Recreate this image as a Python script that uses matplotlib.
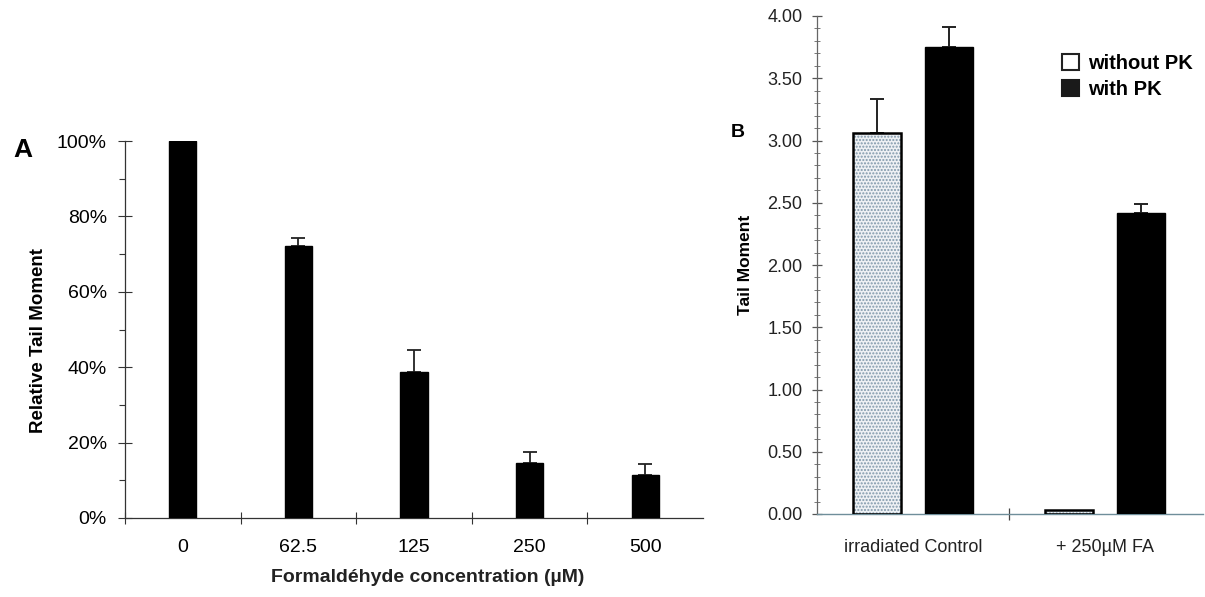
import numpy as np
import matplotlib
matplotlib.use('Agg')
import matplotlib.pyplot as plt
from matplotlib.patches import Patch
from matplotlib.ticker import MultipleLocator, FixedLocator

plt.rcParams['font.family'] = ['Liberation Sans', 'DejaVu Sans']

# panel A
concentrationLabels = ['0', '62.5', '125', '250', '500']
relativeTailMoment = [100, 72.1, 38.6, 14.7, 11.3]
relativeTailMomentErr = [0, 2.3, 6.0, 2.7, 3.1]

# panel B
groupLabels = ['irradiated Control', '+ 250µM FA']
seriesLabels = ['without PK', 'with PK']
tailWithoutPK = [3.06, 0.03]
tailWithPK = [3.75, 2.42]
tailWithoutPKErr = [0.27, 0]
tailWithPKErr = [0.16, 0.07]


def drawPanelA(fig):
    ax = fig.add_axes([125/1205, 1-518/597, 578/1205, 377/597])
    x = np.arange(len(concentrationLabels))
    ax.bar(x, relativeTailMoment, width=0.235, color='black', edgecolor='black', zorder=3)
    for i in range(len(x)):
        if relativeTailMomentErr[i] > 0:
            ax.errorbar(x[i], relativeTailMoment[i], yerr=[[0], [relativeTailMomentErr[i]]],
                        fmt='none', ecolor='#222222', elinewidth=1.3, capsize=5, capthick=1.3, zorder=2)
    ax.set_xlim(-0.5, 4.5)
    ax.set_ylim(0, 100)
    ax.set_xticks(x)
    ax.set_xticklabels(concentrationLabels, fontsize=14)
    ax.xaxis.set_minor_locator(FixedLocator([-0.5, 0.5, 1.5, 2.5, 3.5]))
    ax.tick_params(axis='x', which='major', length=0, pad=15)
    ax.tick_params(axis='x', which='minor', direction='inout', length=9, width=0.8, color='#333333')
    ax.set_yticks(np.arange(0, 101, 20))
    ax.set_yticklabels(['%d%%' % v for v in range(0, 101, 20)], fontsize=14)
    ax.yaxis.set_minor_locator(MultipleLocator(10))
    ax.tick_params(axis='y', which='major', direction='inout', length=10, width=0.8, pad=8, color='#333333')
    ax.tick_params(axis='y', which='minor', direction='out', length=4, width=0.8, color='#333333')
    for side in ['top', 'right']:
        ax.spines[side].set_visible(False)
    for side in ['left', 'bottom']:
        ax.spines[side].set_linewidth(0.9)
        ax.spines[side].set_color('#333333')
    ax.set_xlabel('Formaldéhyde concentration (µM)', fontsize=14, fontweight='bold', color='#222222')
    ax.xaxis.set_label_coords(0.524, -0.135)
    ax.set_ylabel('Relative Tail Moment', fontsize=13.5, fontweight='bold')
    ax.yaxis.set_label_coords(-0.135, 0.47)
    fig.text(13/1205, 1-157/597, 'A', fontsize=19, fontweight='bold')


def drawPanelB(fig):
    ax = fig.add_axes([817/1205, 1-514/597, 386/1205, 498/597])
    x = np.arange(len(groupLabels))
    offset = 0.187
    barWidth = 0.25
    # stippled bars: dotted fill first, black outline on top
    ax.bar(x - offset, tailWithoutPK, width=barWidth, color='#eef1f4', edgecolor='#7f97aa',
           hatch='.....', linewidth=0, zorder=2)
    ax.bar(x - offset, tailWithoutPK, width=barWidth, fill=False, edgecolor='black', linewidth=1.8, zorder=3)
    ax.bar(x + offset, tailWithPK, width=barWidth, color='black', edgecolor='black', zorder=3)
    for i in range(len(x)):
        if tailWithoutPKErr[i] > 0:
            ax.errorbar(x[i] - offset, tailWithoutPK[i], yerr=[[0], [tailWithoutPKErr[i]]], fmt='none',
                        ecolor='#222222', elinewidth=1.4, capsize=5, capthick=1.4, zorder=1)
        if tailWithPKErr[i] > 0:
            ax.errorbar(x[i] + offset, tailWithPK[i], yerr=[[0], [tailWithPKErr[i]]], fmt='none',
                        ecolor='#222222', elinewidth=1.4, capsize=5, capthick=1.4, zorder=1)
    ax.set_xlim(-0.5, 1.51)
    ax.set_ylim(0, 4)
    ax.set_xticks(x)
    ax.set_xticklabels(groupLabels, fontsize=13, color='#222222')
    ax.xaxis.set_minor_locator(FixedLocator([0.5]))
    ax.tick_params(axis='x', which='major', length=0, pad=18)
    ax.tick_params(axis='x', which='minor', direction='inout', length=8, width=0.9, color='#444444')
    ax.set_yticks(np.arange(0, 4.01, 0.5))
    ax.set_yticklabels(['%.2f' % v for v in np.arange(0, 4.01, 0.5)], fontsize=13, color='#222222')
    ax.yaxis.set_minor_locator(MultipleLocator(0.1))
    ax.tick_params(axis='y', which='major', direction='inout', length=7, width=0.9, pad=7, color='#555555')
    ax.tick_params(axis='y', which='minor', direction='inout', length=4, width=0.7, color='#777777')
    for side in ['top', 'right']:
        ax.spines[side].set_visible(False)
    ax.spines['left'].set_color('#666666')
    ax.spines['left'].set_linewidth(0.9)
    ax.spines['bottom'].set_color('#6f8e9a')
    ax.spines['bottom'].set_linewidth(1.0)
    ax.set_ylabel('Tail Moment', fontsize=12.5, fontweight='bold')
    ax.yaxis.set_label_coords(-0.165, 0.5)
    handles = [Patch(facecolor='white', edgecolor='#222222', linewidth=1.5),
               Patch(facecolor='#1a1a1a', edgecolor='#1a1a1a', linewidth=1.5)]
    ax.legend(handles, seriesLabels, loc='upper left', bbox_to_anchor=(1062/1205, 1-54/597),
              bbox_transform=fig.transFigure, frameon=False, borderpad=0, borderaxespad=0,
              handlelength=0.85, handleheight=0.85, handletextpad=0.45, labelspacing=0.35,
              prop={'size': 14.5, 'weight': 'bold'})
    fig.text(731/1205, 1-137/597, 'B', fontsize=14, fontweight='bold')


def main():
    fig = plt.figure(figsize=(12.05, 5.97), dpi=100)
    drawPanelA(fig)
    drawPanelB(fig)
    fig.savefig('out.png', dpi=100)


if __name__ == "__main__":
    main()
